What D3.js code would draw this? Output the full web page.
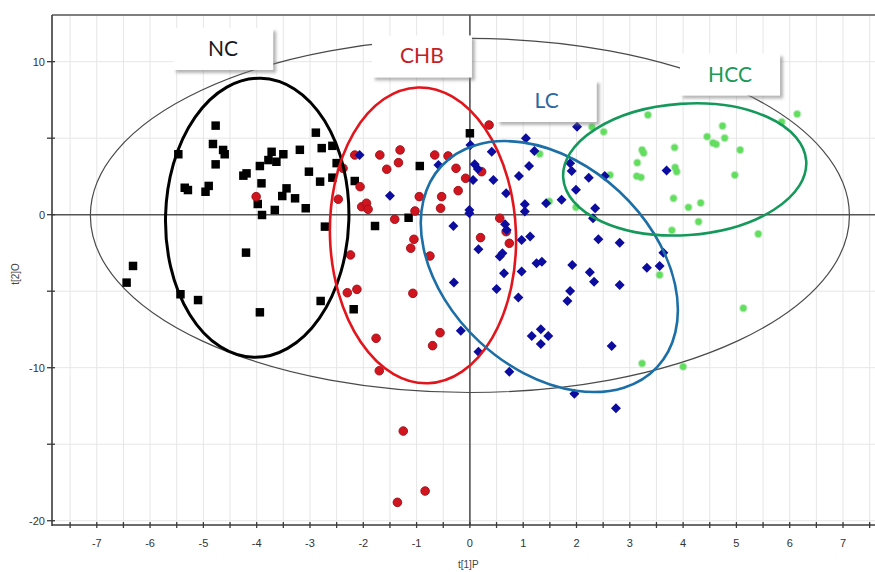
<!DOCTYPE html>
<html><head><meta charset="utf-8">
<script src="https://cdn.jsdelivr.net/npm/d3@7"></script>
<style>html,body{margin:0;padding:0;background:#fff}svg{display:block}</style>
</head><body>
<script>
// ---- data (t[1]P, t[2]O) ----
const ncPoints = [[-4.77,5.82],[-2.89,5.36],[-4.82,4.62],[-4.63,4.23],[-4.60,3.95],[-5.47,3.95],[-4.77,3.29],[-3.72,4.11],[-3.50,3.95],[-3.63,3.46],[-3.78,3.57],[-3.94,3.18],[-3.19,4.24],[-2.78,4.35],[-2.58,4.50],[-2.50,3.37],[-3.02,2.81],[-4.19,2.70],[-4.25,2.55],[-2.81,2.16],[-2.58,2.42],[-3.91,2.05],[-3.44,1.72],[-3.52,1.22],[-3.28,1.07],[-5.35,1.76],[-5.29,1.61],[-4.90,1.88],[-4.96,1.50],[-3.98,0.70],[-3.90,-0.02],[-3.66,0.31],[-3.08,0.42],[-2.72,-0.78],[-4.20,-2.48],[-6.32,-3.35],[-6.44,-4.44],[-5.43,-5.20],[-5.10,-5.58],[-2.80,-5.64],[-3.94,-6.38],[0.0,5.32],[-2.16,2.2],[-0.94,3.18],[-1.15,-0.2],[-1.78,-0.74],[-2.18,-6.18]];
const chbPoints = [[-1.69,3.90],[-1.31,4.23],[-1.34,3.40],[-1.56,2.97],[-2.16,3.90],[-0.66,3.90],[-0.41,3.84],[-0.26,3.03],[-0.08,2.38],[0.22,2.81],[0.36,5.86],[-2.38,3.03],[-2.06,1.83],[-2.47,1.01],[-2.03,0.52],[-1.94,0.75],[-1.91,0.35],[-0.95,1.18],[-0.53,1.18],[-0.22,1.57],[-0.55,0.42],[-1.03,0.24],[-1.41,-0.30],[0.56,-0.23],[0.68,-1.11],[0.74,-1.87],[0.20,-1.50],[-1.05,-1.61],[-1.11,-2.19],[-0.75,-2.70],[-2.24,-2.63],[-2.30,-5.10],[-2.12,-4.88],[-1.07,-5.14],[-1.76,-8.08],[-0.56,-7.71],[-0.70,-8.56],[-1.70,-10.2],[-1.25,-14.14],[-1.36,-18.8],[-0.84,-18.06],[-4.01,1.18]];
const lcPoints = [[2.01,5.75],[1.05,4.99],[0.01,4.55],[0.41,4.11],[1.21,4.16],[0.09,3.29],[0.15,2.99],[0.06,2.27],[0.44,2.27],[0.92,2.53],[1.11,3.18],[0.68,1.40],[1.88,3.36],[1.91,2.86],[2.23,2.42],[2.53,2.53],[1.99,1.63],[1.03,0.68],[1.03,0.20],[1.43,0.75],[1.72,0.97],[2.35,0.42],[2.31,-0.24],[-0.01,0.31],[-0.01,0.09],[-0.31,-0.74],[0.66,-0.63],[0.69,-1.00],[0.97,-1.65],[1.13,-1.43],[0.16,-2.26],[0.56,-2.74],[0.61,-2.52],[1.25,-3.18],[1.35,-3.07],[0.64,-3.83],[0.97,-3.72],[1.92,-3.29],[2.25,-3.76],[2.33,-4.38],[2.81,-4.60],[2.41,-1.61],[2.81,-1.83],[3.63,-2.48],[3.32,-3.47],[3.56,-3.36],[3.69,2.88],[-0.30,-4.44],[0.50,-4.85],[0.91,-5.42],[1.88,-4.99],[1.83,-5.64],[1.16,-7.93],[1.33,-7.49],[1.47,-7.93],[1.33,-8.45],[2.66,-8.58],[-0.17,-7.58],[0.16,-8.96],[0.74,-10.26],[1.96,-11.7],[2.74,-12.65],[-2.07,3.90],[-1.50,1.24],[-0.59,3.24]];
const hccPoints = [[6.14,6.58],[5.85,6.06],[4.74,5.80],[4.45,5.10],[4.56,4.69],[4.62,4.60],[4.78,5.01],[5.07,4.23],[3.84,4.39],[3.23,4.23],[3.26,4.03],[3.14,3.40],[3.85,3.09],[3.88,2.81],[3.13,2.52],[3.21,2.44],[4.97,2.59],[3.82,1.07],[4.10,0.48],[4.33,0.77],[4.29,-0.46],[3.79,-1.02],[5.41,-1.26],[3.56,-3.94],[5.13,-6.11],[3.23,-9.72],[4.00,-9.93],[2.51,5.42],[2.29,5.73],[1.99,0.48],[1.49,0.87],[1.31,3.97],[3.34,6.52],[2.63,2.59]];
const xTickLabels = [-7,-6,-5,-4,-3,-2,-1,0,1,2,3,4,5,6,7];
const yTickLabels = [10,0,-10,-20];
const groupNames = ["NC","CHB","LC","HCC"];

// ---- layout / styles ----
const W = 875, H = 572;
const x = d3.scaleLinear().domain([-7.84, 7.6]).range([52, 875]);
const y = d3.scaleLinear().domain([-20.28, 13.05]).range([525, 15]);

const svg = d3.select("body").append("svg").attr("width", W).attr("height", H);
const defs = svg.append("defs");
const f = defs.append("filter").attr("id","shadow").attr("x","-10%").attr("y","-10%").attr("width","130%").attr("height","140%");
f.append("feDropShadow").attr("dx",3).attr("dy",3).attr("stdDeviation",1.8).attr("flood-color","#777").attr("flood-opacity",0.55);
const clip = defs.append("clipPath").attr("id","plot");
clip.append("rect").attr("x",52).attr("y",15).attr("width",823).attr("height",510);

// grid
const grid = svg.append("g");
grid.selectAll("line.v").data(d3.range(-7.5, 7.51, 0.5)).join("line")
  .attr("x1", d => x(d)).attr("x2", d => x(d)).attr("y1", 15).attr("y2", 525)
  .attr("stroke", "#e6e6e6").attr("stroke-width", 1);
grid.selectAll("line.h").data([10,5,-5,-10,-15,-20]).join("line")
  .attr("y1", d => y(d)).attr("y2", d => y(d)).attr("x1", 52).attr("x2", 875)
  .attr("stroke", "#e6e6e6").attr("stroke-width", 1);

// zero lines
svg.append("line").attr("x1", x(0)).attr("x2", x(0)).attr("y1", 15).attr("y2", 525).attr("stroke", "#555").attr("stroke-width", 1.6);
svg.append("line").attr("y1", y(0)).attr("y2", y(0)).attr("x1", 52).attr("x2", 875).attr("stroke", "#555").attr("stroke-width", 1.6);

const plot = svg.append("g").attr("clip-path", "url(#plot)");

function ellipse(g, e) {
  const cx = x(e.cx), cy = y(e.cy);
  const rx = x(e.cx + e.rx) - cx, ry = cy - y(e.cy + e.ry);
  g.append("ellipse").attr("cx", cx).attr("cy", cy).attr("rx", rx).attr("ry", ry)
    .attr("transform", `rotate(${e.angle},${cx},${cy})`)
    .attr("fill", "none").attr("stroke", e.color).attr("stroke-width", e.width);
}
// Hotelling T2 ellipse
ellipse(plot, {cx:0, cy:-0.05, rx:7.12, ry:11.57, angle:0, color:"#4a4a4a", width:1.2});

// points
plot.append("g").selectAll("circle").data(hccPoints).join("circle")
  .attr("cx", d => x(d[0])).attr("cy", d => y(d[1])).attr("r", 3.1)
  .attr("fill", "#5fe05a").attr("stroke", "rgba(110,215,110,0.45)").attr("stroke-width", 2.2);
plot.append("g").selectAll("path").data(ncPoints).join("path")
  .attr("d", d3.symbol(d3.symbolSquare, 72))
  .attr("transform", d => `translate(${x(d[0])},${y(d[1])})`)
  .attr("fill", "#000");
plot.append("g").selectAll("circle").data(chbPoints).join("circle")
  .attr("cx", d => x(d[0])).attr("cy", d => y(d[1])).attr("r", 4.3)
  .attr("fill", "#d1151f").attr("stroke", "#9c0f17").attr("stroke-width", 0.9);
plot.append("g").selectAll("path").data(lcPoints).join("path")
  .attr("d", d3.symbol(d3.symbolSquare, 50))
  .attr("transform", d => `translate(${x(d[0])},${y(d[1])}) rotate(45)`)
  .attr("fill", "#0c0c9e");

// group ellipses
const groupEllipses = [
  {cx:-3.99, cy:-0.2, rx:1.72, ry:9.12, angle:1.5, color:"#000", width:3},
  {cx:-0.88, cy:-1.35, rx:1.745, ry:9.67, angle:-2, color:"#e3151c", width:2.6},
  {cx:1.49, cy:-3.39, rx:2.766, ry:6.706, angle:43, color:"#1c6ea6", width:2.6},
  {cx:4.03, cy:2.96, rx:2.285, ry:4.294, angle:-4, color:"#14995a", width:2.6}
];
groupEllipses.forEach(e => ellipse(plot, e));

// label boxes
const labelBoxes = [
  {cx:-4.63, cy:10.83, color:"#1a1a1a"},
  {cx:-0.90, cy:10.34, color:"#c41e28"},
  {cx:1.44, cy:7.43, color:"#2a6aa2"},
  {cx:4.88, cy:9.16, color:"#1c9a55"}
];
const lb = svg.append("g");
labelBoxes.forEach((b, i) => {
  const px = x(b.cx), py = y(b.cy);
  lb.append("rect").attr("x", px - 50).attr("y", py - 21).attr("width", 100).attr("height", 42)
    .attr("fill", "#fff").attr("filter", "url(#shadow)");
  lb.append("text").attr("x", px).attr("y", py + 7).attr("text-anchor", "middle")
    .attr("font-family", "Lato, 'Open Sans', sans-serif").attr("font-size", 21)
    .attr("fill", b.color).text(groupNames[i]);
});

// frame
const axisColor = "#3a3a3a";
svg.append("line").attr("x1", 52).attr("x2", 875).attr("y1", 15).attr("y2", 15).attr("stroke", "#555").attr("stroke-width", 1.5);
svg.append("line").attr("x1", 52).attr("x2", 52).attr("y1", 15).attr("y2", 526).attr("stroke", axisColor).attr("stroke-width", 1.6);
svg.append("line").attr("x1", 52).attr("x2", 875).attr("y1", 525).attr("y2", 525).attr("stroke", axisColor).attr("stroke-width", 1.6);

// x axis ticks
const xa = svg.append("g");
xa.selectAll("line").data(d3.range(-7.5, 7.51, 0.5)).join("line")
  .attr("x1", d => x(d)).attr("x2", d => x(d)).attr("y1", 522).attr("y2", 528)
  .attr("stroke", axisColor).attr("stroke-width", 1.3);
xa.selectAll("text").data(xTickLabels).join("text")
  .attr("x", d => x(d)).attr("y", 547).attr("text-anchor", "middle")
  .attr("font-family", "'Liberation Sans', Arial, sans-serif").attr("font-size", 11).attr("fill", "#333")
  .text(d => d);
// y axis ticks
const ya = svg.append("g");
ya.selectAll("line").data([10,5,0,-5,-10,-15,-20]).join("line")
  .attr("y1", d => y(d)).attr("y2", d => y(d)).attr("x1", 47).attr("x2", 55)
  .attr("stroke", axisColor).attr("stroke-width", 1.3);
ya.selectAll("text").data(yTickLabels).join("text")
  .attr("x", 45).attr("y", d => y(d) + 4).attr("text-anchor", "end")
  .attr("font-family", "'Liberation Sans', Arial, sans-serif").attr("font-size", 11).attr("fill", "#333")
  .text(d => d);

// axis titles
svg.append("text").attr("x", 458).attr("y", 568)
  .attr("font-family", "'Liberation Sans', Arial, sans-serif").attr("font-size", 10).attr("fill", "#444").text("t[1]P");
svg.append("text").attr("transform", "translate(19,274) rotate(-90)").attr("text-anchor", "middle")
  .attr("font-family", "'Liberation Sans', Arial, sans-serif").attr("font-size", 10).attr("fill", "#444").text("t[2]O");
</script>
</body></html>
